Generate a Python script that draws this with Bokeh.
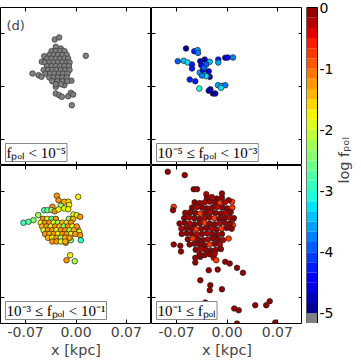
import math
import numpy as np
from bokeh.plotting import figure
from bokeh.layouts import row, column
from bokeh.core.properties import value
from bokeh.models import (Range1d, LinearAxis, FixedTicker, Label, ColumnDataSource,
                          LinearColorMapper, NumeralTickFormatter)
from bokeh.embed import file_html
from bokeh.resources import INLINE

# ---------------- data (x [kpc], y [kpc], log f_pol) ----------------
tl_pts = [
    (-0.0295, 0.0625), (-0.0234, 0.0652), (0.0136, 0.0408), (-0.0605, 0.0173), (-0.0521, 0.0150),
    (-0.0480, 0.0129), (-0.0475, 0.0329), (-0.0442, 0.0403), (-0.0281, 0.0528), (-0.0211, 0.0505),
    (-0.0281, -0.0004), (-0.0188, 0.0040), (-0.0164, 0.0017), (-0.0063, 0.0076), (-0.0281, -0.0093),
    (-0.0234, -0.0116), (-0.0197, -0.0137), (-0.0108, -0.0129), (-0.0072, -0.0084), (-0.0039, -0.0106),
    (-0.0058, -0.0249),
    (-0.034, 0.047), (-0.028, 0.047), (-0.022, 0.047), (-0.016, 0.047),
    (-0.037, 0.042), (-0.031, 0.042), (-0.025, 0.042), (-0.019, 0.042), (-0.013, 0.042),
    (-0.040, 0.037), (-0.034, 0.037), (-0.028, 0.037), (-0.022, 0.037), (-0.016, 0.037), (-0.011, 0.037),
    (-0.043, 0.032), (-0.037, 0.032), (-0.031, 0.032), (-0.025, 0.032), (-0.019, 0.032), (-0.013, 0.032),
    (-0.009, 0.032),
    (-0.040, 0.027), (-0.034, 0.027), (-0.028, 0.027), (-0.022, 0.027), (-0.016, 0.027), (-0.010, 0.027),
    (-0.045, 0.022), (-0.039, 0.022), (-0.033, 0.022), (-0.027, 0.022), (-0.021, 0.022), (-0.015, 0.022),
    (-0.009, 0.022),
    (-0.042, 0.017), (-0.036, 0.017), (-0.030, 0.017), (-0.024, 0.017), (-0.018, 0.017), (-0.012, 0.017),
    (-0.037, 0.012), (-0.031, 0.012), (-0.025, 0.012), (-0.019, 0.012), (-0.013, 0.012),
    (-0.033, 0.007), (-0.026, 0.007), (-0.019, 0.007), (-0.012, 0.007),
    (-0.028, 0.003), (-0.021, 0.003),
]

tr_pts = [
    (-0.0570, 0.0505, -4.9), (-0.0455, 0.0469, -4.3), (-0.0408, 0.0483, -3.6), (-0.0403, 0.0446, -3.8),
    (-0.0685, 0.0336, -4.0), (-0.0602, 0.0342, -3.4), (-0.0546, 0.0319, -3.2), (-0.0487, 0.0293, -4.3),
    (-0.0487, 0.0239, -4.2), (-0.0371, 0.0336, -4.8), (-0.0310, 0.0359, -4.7), (-0.0240, 0.0329, -3.5),
    (-0.0357, 0.0283, -4.4), (-0.0288, 0.0293, -4.0), (-0.0379, 0.0186, -3.6), (-0.0334, 0.0217, -4.5),
    (-0.0302, 0.0160, -3.5), (-0.0254, 0.0203, -4.6), (-0.0240, 0.0129, -4.8), (-0.0288, 0.0137, -3.3),
    (-0.0348, 0.0146, -3.8), (-0.0320, 0.0250, -3.9), (-0.0121, 0.0359, -4.3), (-0.0121, 0.0319, -3.6),
    (-0.0024, 0.0382, -4.7), (0.0010, 0.0386, -4.4), (0.0083, 0.0386, -3.8), (-0.0518, 0.0093, -4.3),
    (-0.0441, 0.0070, -4.2), (-0.0385, -0.0027, -3.1), (-0.0232, -0.0036, -4.8), (-0.0254, -0.0057, -4.7),
    (-0.0195, -0.0093, -4.9), (-0.0163, -0.0093, -4.8), (-0.0125, 0.0017, -3.6), (-0.0070, 0.0009, -3.5),
    (-0.0024, 0.0017, -3.7), (-0.0083, -0.0017, -3.3),
]

bl_pts = [
    (-0.0267, 0.0648, -1.3), (-0.0243, 0.0589, -1.25), (-0.0164, 0.0568, -1.35), (-0.0104, 0.0568, -1.6),
    (0.0031, 0.0634, -1.8), (-0.0327, 0.0501, -1.3), (-0.0211, 0.0515, -2.3), (-0.0095, 0.0525, -1.7),
    (-0.0442, 0.0456, -2.8), (-0.0396, 0.0456, -2.6), (-0.0341, 0.0459, -2.4), (-0.0295, 0.0443, -1.3),
    (-0.0243, 0.0466, -1.7), (-0.0164, 0.0479, -1.9), (-0.0108, 0.0469, -1.8),
    (-0.0525, 0.0392, -2.3), (-0.0730, 0.0289, -2.9), (-0.0660, 0.0302, -2.7), (-0.0591, 0.0323, -2.4),
    (-0.0035, 0.0399, -1.8), (0.0011, 0.0389, -2.0), (0.0058, 0.0368, -1.3), (0.0021, 0.0213, -1.6),
    (0.0044, 0.0169, -1.8), (0.0058, 0.0124, -1.3), (0.0067, 0.0057, -2.9), (-0.0072, 0.0057, -2.4),
    (-0.0142, 0.0023, -1.3), (-0.0081, -0.0142, -1.7), (-0.0132, -0.0209, -1.3), (-0.0017, -0.0222, -2.2),
    (-0.046, 0.034, -1.3), (-0.040, 0.034, -1.8), (-0.034, 0.034, -2.8), (-0.028, 0.034, -1.3),
    (-0.010, 0.034, -2.2), (-0.004, 0.034, -1.4),
    (-0.049, 0.029, -1.7), (-0.043, 0.029, -1.2), (-0.037, 0.029, -1.3), (-0.031, 0.029, -1.9),
    (-0.025, 0.029, -2.3), (-0.019, 0.029, -1.4), (-0.013, 0.029, -1.6), (-0.007, 0.029, -1.3),
    (-0.047, 0.024, -1.4), (-0.041, 0.024, -1.2), (-0.035, 0.024, -1.8), (-0.029, 0.024, -1.3),
    (-0.023, 0.024, -1.5), (-0.017, 0.024, -2.4), (-0.011, 0.024, -1.2), (-0.005, 0.024, -1.7),
    (0.001, 0.024, -1.3),
    (-0.045, 0.019, -1.9), (-0.039, 0.019, -1.3), (-0.033, 0.019, -1.2), (-0.027, 0.019, -1.7),
    (-0.021, 0.019, -1.3), (-0.015, 0.019, -1.2), (-0.009, 0.019, -2.2), (-0.003, 0.019, -1.4),
    (-0.043, 0.014, -1.3), (-0.037, 0.014, -1.5), (-0.031, 0.014, -1.2), (-0.025, 0.014, -1.8),
    (-0.019, 0.014, -1.3), (-0.013, 0.014, -1.2), (-0.007, 0.014, -1.7), (-0.001, 0.014, -1.3),
    (-0.039, 0.009, -1.4), (-0.033, 0.009, -1.8), (-0.027, 0.009, -1.3), (-0.021, 0.009, -2.3),
    (-0.015, 0.009, -1.4), (-0.009, 0.009, -1.2),
    (-0.033, 0.004, -1.3), (-0.027, 0.004, -1.2), (-0.021, 0.004, -1.7), (-0.015, 0.004, -1.4),
]

br_pts = [
    (-0.0824, 0.0967, -0.15), (-0.0588, 0.0922, -0.1), (-0.0463, 0.0735, -0.1), (-0.0417, 0.0735, -0.1),
    (-0.0288, 0.0669, -0.2), (-0.0070, 0.0678, -0.1), (-0.0741, 0.0501, -0.8), (-0.0751, 0.0456, -0.1),
    (0.0070, 0.0568, -0.8), (0.0024, 0.0589, -0.1), (0.0070, 0.0323, -0.7), (0.0083, 0.0257, -0.7),
    (0.0024, 0.0080, -0.8), (-0.0741, 0.0000, -0.1), (-0.0649, -0.0017, -0.1), (-0.0640, -0.0093, -0.1),
    (-0.0441, -0.0177, -0.1), (-0.0371, -0.0164, -0.1), (-0.0441, -0.0239, -0.1), (-0.0185, -0.0177, -0.2),
    (-0.0149, -0.0209, -0.7), (-0.0024, -0.0230, -0.1), (0.0038, -0.0253, -0.1), (0.0139, -0.0310, -0.1),
    (0.0222, -0.0376, -0.1), (-0.0254, -0.0342, -0.1), (-0.0129, -0.0333, -0.1), (-0.0371, -0.0475, -0.1),
    (-0.0232, -0.0541, -0.1), (-0.0240, -0.0608, -0.1), (-0.0070, -0.0595, -0.1), (-0.0302, -0.0771, -0.1),
    (0.0101, -0.0851, -0.1), (0.0163, -0.0874, -0.1), (0.0393, -0.0807, -0.1), (0.0546, -0.0807, -0.1),
    (0.0594, -0.0754, -0.1), (0.0139, -0.1051, -0.1), (0.0671, -0.1037, -0.1),
    (-0.028, 0.062, -0.1), (-0.021, 0.063, -0.2), (-0.014, 0.061, -0.1), (-0.007, 0.062, -0.1),
    (-0.045, 0.056, -0.1), (-0.038, 0.055, -0.1), (-0.031, 0.056, -0.3), (-0.024, 0.057, -0.1),
    (-0.017, 0.056, -0.1), (-0.010, 0.055, -0.8), (-0.003, 0.056, -0.2),
    (-0.0485, 0.049, -0.1), (-0.0415, 0.050, -0.2), (-0.0345, 0.049, -0.1), (-0.0275, 0.048, -0.1),
    (-0.0205, 0.049, -0.1), (-0.0135, 0.050, -0.3), (-0.0065, 0.049, -0.1), (0.0005, 0.048, -0.1),
    (0.0075, 0.049, -0.7),
    (-0.058, 0.042, -0.1), (-0.051, 0.043, -0.1), (-0.044, 0.042, -0.1), (-0.037, 0.041, -0.8),
    (-0.030, 0.042, -0.1), (-0.023, 0.043, -0.2), (-0.016, 0.042, -0.1), (-0.009, 0.041, -0.1),
    (-0.002, 0.042, -0.3), (0.005, 0.043, -0.1),
    (-0.0595, 0.035, -0.1), (-0.0525, 0.036, -0.3), (-0.0455, 0.035, -0.1), (-0.0385, 0.034, -0.1),
    (-0.0315, 0.035, -0.2), (-0.0245, 0.036, -0.1), (-0.0175, 0.035, -0.7), (-0.0105, 0.034, -0.1),
    (-0.0035, 0.035, -0.1), (0.0035, 0.036, -0.2), (0.0095, 0.035, -0.1),
    (-0.066, 0.028, -0.1), (-0.059, 0.029, -0.1), (-0.052, 0.028, -0.2), (-0.045, 0.027, -0.1),
    (-0.038, 0.028, -0.1), (-0.031, 0.029, -0.8), (-0.024, 0.028, -0.1), (-0.017, 0.027, -0.1),
    (-0.010, 0.028, -0.3), (-0.003, 0.029, -0.1), (0.004, 0.028, -0.1),
    (-0.0635, 0.021, -0.2), (-0.0565, 0.022, -0.1), (-0.0495, 0.021, -0.1), (-0.0425, 0.020, -0.7),
    (-0.0355, 0.021, -0.1), (-0.0285, 0.022, -0.1), (-0.0215, 0.021, -0.2), (-0.0145, 0.020, -0.1),
    (-0.0075, 0.021, -0.8), (-0.0005, 0.022, -0.1), (0.0065, 0.021, -0.1),
    (-0.063, 0.014, -0.1), (-0.056, 0.015, -0.1), (-0.049, 0.014, -0.1), (-0.042, 0.013, -0.2),
    (-0.035, 0.014, -0.1), (-0.028, 0.015, -0.3), (-0.021, 0.014, -0.1), (-0.014, 0.013, -0.1),
    (-0.007, 0.014, -0.1),
    (-0.0545, 0.007, -0.1), (-0.0475, 0.008, -0.8), (-0.0405, 0.007, -0.1), (-0.0335, 0.006, -0.1),
    (-0.0265, 0.007, -0.2), (-0.0195, 0.008, -0.1), (-0.0125, 0.007, -0.1), (-0.0055, 0.006, -0.3),
    (-0.052, 0.000, -0.1), (-0.045, 0.001, -0.1), (-0.038, 0.000, -0.1), (-0.031, -0.001, -0.1),
    (-0.024, 0.000, -0.7), (-0.017, 0.001, -0.1), (-0.010, 0.000, -0.2),
    (-0.0435, -0.007, -0.1), (-0.0365, -0.006, -0.2), (-0.0295, -0.007, -0.1), (-0.0225, -0.008, -0.1),
    (-0.0155, -0.007, -0.1), (-0.0085, -0.006, -0.1),
    (-0.038, -0.013, -0.1), (-0.031, -0.014, -0.1), (-0.024, -0.013, -0.1), (-0.017, -0.012, -0.2),
]

x_ticks = [-0.07, 0.0, 0.07]
cb_ticks = [0, -1, -2, -3, -4, -5]
cb_tick_labels = ["0", "-1", "-2", "-3", "-4", "-5"]
panel_labels = ["fₚₒₗ < 10⁻⁵", "10⁻⁵ ≤ fₚₒₗ < 10⁻³", "10⁻³ ≤ fₚₒₗ < 10⁻¹", "10⁻¹ ≤ fₚₒₗ"]
cb_title = "log fₚₒₗ"

# ---------------- styling / scales ----------------
XR = (-0.105, 0.105)
FW, FH = 151, 158
TOP = 7
GRAY = "#808080"
MSIZE = 5.6


def jet(t):
    r = np.interp(t, [0, 0.35, 0.66, 0.89, 1], [0, 0, 1, 1, 0.5])
    g = np.interp(t, [0, 0.125, 0.375, 0.64, 0.91, 1], [0, 0, 1, 1, 0, 0])
    b = np.interp(t, [0, 0.11, 0.34, 0.65, 1], [0.5, 1, 1, 0, 0])
    return "#%02x%02x%02x" % (int(r * 255), int(g * 255), int(b * 255))


NB = 30
band = 5.0 / NB
low = -5.0 - band
palette = [GRAY] + [jet((i + 0.5) / NB) for i in range(NB)]
mapper = LinearColorMapper(palette=palette, low=low, high=0.0)


def hidden_axis(loc):
    return LinearAxis(ticker=FixedTicker(ticks=x_ticks), fixed_location=loc,
                      major_tick_in=4, major_tick_out=0, minor_tick_in=0, minor_tick_out=0,
                      axis_line_color=None, major_tick_line_color="black",
                      major_label_text_font_size="0px", major_label_text_color=None)


def make_panel(pts, label, top, gray=False):
    p = figure(x_range=Range1d(*XR), y_range=Range1d(*XR), frame_width=FW, frame_height=FH,
               x_axis_type=None, y_axis_type=None, toolbar_location=None, output_backend="svg",
               min_border_left=0, min_border_right=0, min_border_top=TOP if top else 0,
               min_border_bottom=0, background_fill_color="white", border_fill_color="white")
    p.outline_line_color = "black"
    p.outline_line_width = 1
    p.outline_line_alpha = 1
    p.add_layout(hidden_axis(XR[0]), "left")
    p.add_layout(hidden_axis(XR[1]), "right")
    p.add_layout(hidden_axis(XR[1]), "above")
    if top:
        p.add_layout(hidden_axis(XR[0]), "below")
    else:
        ax = LinearAxis(ticker=FixedTicker(ticks=x_ticks), formatter=NumeralTickFormatter(format="0.00"),
                        axis_label="x [kpc]", major_tick_in=4, major_tick_out=0,
                        minor_tick_in=0, minor_tick_out=0, axis_line_color=None,
                        major_label_text_font="DejaVu Sans", major_label_text_font_size="14px",
                        major_label_standoff=3, axis_label_text_font="DejaVu Sans",
                        axis_label_text_font_size="14.5px", axis_label_text_font_style="normal",
                        axis_label_standoff=2)
        p.add_layout(ax, "below")
    if gray:
        xs = [q[0] for q in pts]
        ys = [q[1] for q in pts]
        p.scatter(xs, ys, size=MSIZE, fill_color=GRAY, line_color="#333333", line_width=0.7)
    else:
        src = ColumnDataSource(dict(x=[q[0] for q in pts], y=[q[1] for q in pts], f=[q[2] for q in pts]))
        p.scatter("x", "y", source=src, size=MSIZE, fill_color={"field": "f", "transform": mapper},
                  line_color="#222222", line_width=0.7)
    p.add_layout(Label(x=XR[0], y=XR[0], x_units="data", y_units="data", x_offset=5, y_offset=4,
                       text=label, text_font="Liberation Serif", text_font_size="15px",
                       text_color="black", background_fill_color="white",
                       border_line_color="#888888", border_line_width=1, padding=1))
    return p


p1 = make_panel(tl_pts, panel_labels[0], True, gray=True)
p1.add_layout(Label(x=XR[0], y=XR[1], x_units="data", y_units="data", x_offset=6, y_offset=-10,
                    text="(d)", text_font="DejaVu Sans", text_font_size="13px", text_baseline="top"))
p2 = make_panel(tr_pts, panel_labels[1], True)
p3 = make_panel(bl_pts, panel_labels[2], False)
p4 = make_panel(br_pts, panel_labels[3], False)

# ---------------- colour bar ----------------
BAR_W = 11
CB_W = 50
px_per_unit = 2 * FH / (0.0 - low)
top_pad = TOP / px_per_unit
cb = figure(x_range=Range1d(0, CB_W / BAR_W), y_range=Range1d(low, top_pad),
            frame_width=CB_W, frame_height=2 * FH + TOP,
            x_axis_type=None, y_axis_type=None, toolbar_location=None, output_backend="svg",
            min_border_left=4, min_border_top=0, min_border_right=0, min_border_bottom=0)
cb.outline_line_color = None
cb_bottoms = [low + i * band for i in range(NB + 1)]
cb_tops = [b + band for b in cb_bottoms]
cb.quad(left=0, right=1, bottom=cb_bottoms, top=cb_tops, fill_color=palette, line_color=None)
cb.quad(left=0, right=1, bottom=low, top=0, fill_color=None, line_color="black", line_width=1)
cb.text(x=1, y=cb_ticks, text=cb_tick_labels, x_offset=2, text_baseline="middle", text_align="left",
        text_font=value("DejaVu Sans"), text_font_size="14px", text_color="black")
cb.add_layout(Label(x=1, y=-2.5, x_units="data", y_units="data", x_offset=26, text=cb_title,
                    angle=math.pi / 2, angle_units="rad", text_align="center", text_baseline="middle",
                    text_font="DejaVu Sans", text_font_size="14.5px"))

layout = row(column(row(p1, p2), row(p3, p4)), cb)

open("out.html", "w").write(file_html(layout, INLINE))
